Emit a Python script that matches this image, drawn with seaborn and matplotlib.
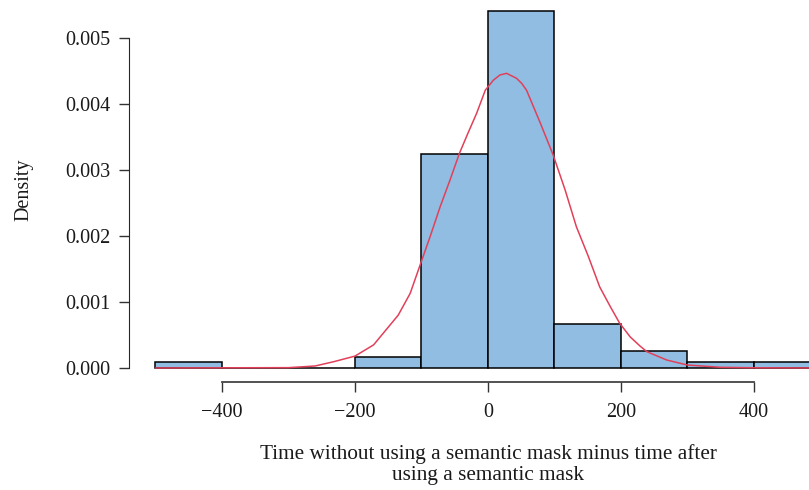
import seaborn as sns
import matplotlib.pyplot as plt
import numpy as np

# histogram: counts per 100-wide bin, from -500 to 500
bin_edges = [-500, -400, -300, -200, -100, 0, 100, 200, 300, 400, 500]
bin_counts = [1, 0, 0, 2, 39, 65, 8, 3, 1, 1]

# fitted normal curve
curve_x = [-500, -300, -260, -232, -200, -172, -135, -117, -101, -87, -72,
           -57, -43, -30, -17, -4, 8, 18, 28, 43, 51, 58, 78, 98, 116, 133,
           151, 168, 184, 198, 214, 229, 239, 269, 300, 350, 400, 500]
curve_y = [0.0, 0.000005, 0.00003, 0.000095, 0.00018, 0.00035, 0.00080,
           0.00113, 0.00159, 0.00199, 0.00244, 0.00285, 0.00325, 0.00356,
           0.00386, 0.00421, 0.00436, 0.00444, 0.004465, 0.00439, 0.00431,
           0.00421, 0.00373, 0.00323, 0.00270, 0.00214, 0.00169, 0.00123,
           0.00093, 0.00068, 0.00047, 0.00033, 0.000247, 0.00012, 0.000045,
           0.00001, 0.000003, 0.0]

x_ticks = [-400, -200, 0, 200, 400]
y_ticks = [0.000, 0.001, 0.002, 0.003, 0.004, 0.005]

sns.set_style('ticks')
plt.rcParams['font.family'] = ['Liberation Serif', 'DejaVu Serif']

bin_centers = [(a + b) / 2 for a, b in zip(bin_edges[:-1], bin_edges[1:])]

fig = plt.figure(figsize=(8.09, 4.90), dpi=100)
ax = fig.add_axes([128.9 / 809, (490 - 382.3) / 490, (847 - 128.9) / 809, 386.1 / 490])

sns.histplot(x=bin_centers, weights=bin_counts, bins=bin_edges, stat='density',
             color='#90bde1', edgecolor='black', linewidth=1.1, alpha=1, ax=ax)
sns.lineplot(x=curve_x, y=curve_y, color='#e2405a', linewidth=1.1, ax=ax)

ax.set_xlim(-540, 540)
ax.set_ylim(-0.000217, 0.005634)
ax.set_xticks(x_ticks)
ax.set_xticklabels(['\u2212400', '\u2212200', '0', '200', '400'])
ax.set_yticks(y_ticks)
ax.set_yticklabels([f'{v:.3f}' for v in y_ticks])
ax.tick_params(labelsize=14.5, length=7, width=1, color='#333333', pad=6,
               labelcolor='#1a1a1a')
ax.tick_params(axis='x', pad=8)

for side in ['top', 'right']:
    ax.spines[side].set_visible(False)
ax.spines['left'].set_bounds(0, 0.005)
ax.spines['bottom'].set_bounds(-400, 400)
ax.spines['bottom'].set_color('#444444')
ax.spines['bottom'].set_linewidth(1.3)

ax.set_ylabel('Density', fontsize=14.5, color='#1a1a1a')
ax.yaxis.set_label_coords(-0.133, 0.5)
ax.set_xlabel('Time without using a semantic mask minus time after\nusing a semantic mask',
              fontsize=15.3, linespacing=1.15, color='#1a1a1a')
ax.xaxis.set_label_coords(0.5, -0.160)
ax.xaxis.label.set_va('top')

fig.savefig('out.png', dpi=100)
